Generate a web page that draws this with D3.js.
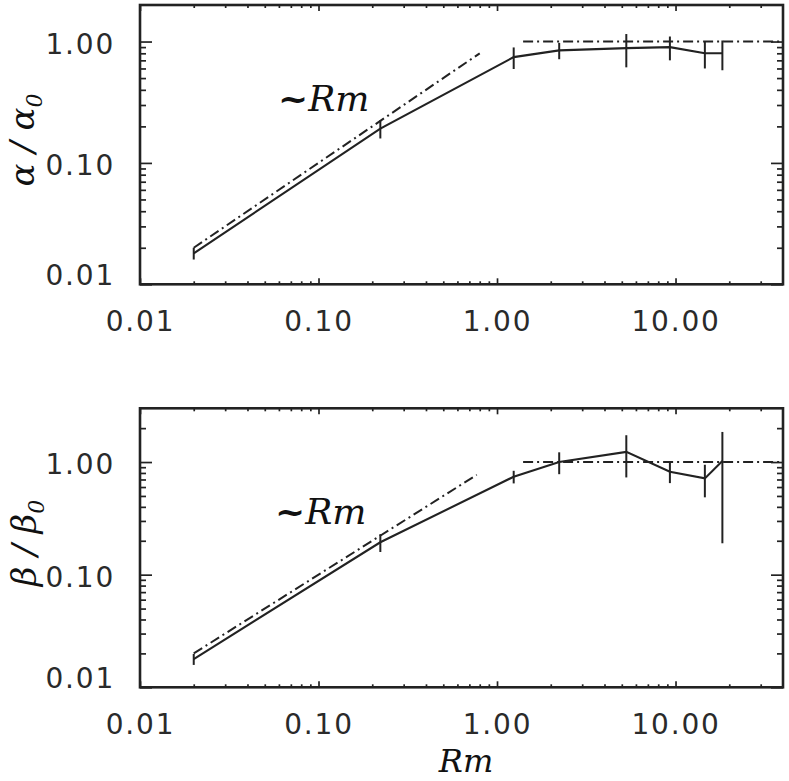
<!DOCTYPE html>
<html>
<head>
<meta charset="utf-8">
<script src="https://cdn.jsdelivr.net/npm/d3@7"></script>
<style>
  html, body { margin: 0; padding: 0; background: #fff; }
  svg { display: block; }
</style>
</head>
<body>
<svg id="chart" width="789" height="781"></svg>
<script>
// ---- data ----
const rm        = [0.02, 0.222, 1.24, 2.23, 5.3, 9.3, 14.6, 18.3];
const alphaVal  = [0.018, 0.192, 0.744, 0.845, 0.883, 0.90, 0.80, 0.80];
const alphaErr  = [0.002, 0.033, 0.15, 0.13, 0.27, 0.20, 0.20, 0.22];
const betaVal   = [0.0178, 0.194, 0.741, 1.00, 1.23, 0.82, 0.716, 1.02];
const betaErr   = [0.002, 0.035, 0.095, 0.22, 0.50, 0.17, 0.23, 0.83];
const fitAlphaRm = [0.02, 0.80];
const fitBetaRm  = [0.02, 0.77];
const plateauRm  = [1.4, 40];
const plateauVal = 1.0;
const xMajorTicks = [0.01, 0.1, 1, 10];
const xTickLabels = ["0.01", "0.10", "1.00", "10.00"];
const yMajorTicks = [0.01, 0.1, 1];
const yTickLabels = ["0.01", "0.10", "1.00"];

const ink = "#222";
const svg = d3.select("#chart");

const x = d3.scaleLog().domain([0.01, 40]).range([140, 783]);

function minorTicks(lo, hi) {
  const out = [];
  for (let e = -3; e <= 2; e++) {
    for (let m = 2; m <= 9; m++) {
      const v = m * Math.pow(10, e);
      if (v > lo * 1.0001 && v < hi * 0.9999) out.push(v);
    }
  }
  return out;
}

function panel(opts) {
  const y = d3.scaleLog().domain(opts.yDomain).range(opts.yRange);
  const [x0, x1] = x.range();
  const yb = opts.yRange[0], yt = opts.yRange[1];
  const g = svg.append("g");
  const xMin = minorTicks(0.01, 40);
  const yMin = minorTicks(opts.yDomain[0], opts.yDomain[1]);

  const styleAxis = sel => {
    sel.select(".domain").remove();
    sel.selectAll("line").attr("stroke", ink).attr("stroke-width", 1.7);
  };
  const styleLabels = s => s.selectAll("text").attr("font-family", "DejaVu Sans")
    .attr("font-size", 28).attr("fill", "#2a2a2a").attr("letter-spacing", 1.8);

  // bottom axis
  g.append("g").attr("transform", `translate(0,${yb})`)
    .call(d3.axisBottom(x).tickValues(xMajorTicks).tickSizeInner(-6).tickSizeOuter(0)
      .tickFormat((d, i) => xTickLabels[i]).tickPadding(27))
    .call(styleAxis).call(styleLabels);
  g.append("g").attr("transform", `translate(0,${yb})`)
    .call(d3.axisBottom(x).tickValues(xMin).tickSizeInner(-3).tickSizeOuter(0).tickFormat(""))
    .call(styleAxis);
  // top axis
  g.append("g").attr("transform", `translate(0,${yt})`)
    .call(d3.axisTop(x).tickValues(xMajorTicks).tickSizeInner(-6).tickSizeOuter(0).tickFormat(""))
    .call(styleAxis);
  g.append("g").attr("transform", `translate(0,${yt})`)
    .call(d3.axisTop(x).tickValues(xMin).tickSizeInner(-3).tickSizeOuter(0).tickFormat(""))
    .call(styleAxis);
  // left axis
  g.append("g").attr("transform", `translate(${x0},0)`)
    .call(d3.axisLeft(y).tickValues(yMajorTicks).tickSizeInner(-12).tickSizeOuter(0)
      .tickFormat((d, i) => yTickLabels[i]).tickPadding(25))
    .call(styleAxis).call(styleLabels)
    .call(s => s.selectAll("text").attr("dy", (d, i) => i === 0 ? "0.0em" : "0.42em"));
  g.append("g").attr("transform", `translate(${x0},0)`)
    .call(d3.axisLeft(y).tickValues(yMin).tickSizeInner(-6).tickSizeOuter(0).tickFormat(""))
    .call(styleAxis);
  // right axis
  g.append("g").attr("transform", `translate(${x1},0)`)
    .call(d3.axisRight(y).tickValues(yMajorTicks).tickSizeInner(-12).tickSizeOuter(0).tickFormat(""))
    .call(styleAxis);
  g.append("g").attr("transform", `translate(${x1},0)`)
    .call(d3.axisRight(y).tickValues(yMin).tickSizeInner(-6).tickSizeOuter(0).tickFormat(""))
    .call(styleAxis);

  // frame
  g.append("rect").attr("x", x0).attr("y", yt).attr("width", x1 - x0).attr("height", yb - yt)
    .attr("fill", "none").attr("stroke", ink).attr("stroke-width", 2.6);

  // reference lines (dash-dot)
  const line = d3.line().x(d => x(d[0])).y(d => y(d[1]));
  g.append("path").datum(opts.fitRm.map(r => [r, r]))
    .attr("d", line).attr("fill", "none").attr("stroke", ink)
    .attr("stroke-width", 2).attr("stroke-dasharray", "10,4,2,4");
  g.append("path").datum(plateauRm.map(r => [r, plateauVal]))
    .attr("d", line).attr("fill", "none").attr("stroke", ink)
    .attr("stroke-width", 2).attr("stroke-dasharray", "10,4,2,4");

  // data line
  g.append("path").datum(rm.map((r, i) => [r, opts.vals[i]]))
    .attr("d", line).attr("fill", "none").attr("stroke", ink).attr("stroke-width", 2.1);
  // error bars
  g.selectAll(".err").data(rm).enter().append("line")
    .attr("x1", d => x(d)).attr("x2", d => x(d))
    .attr("y1", (d, i) => y(opts.vals[i] + opts.errs[i]))
    .attr("y2", (d, i) => y(Math.max(opts.vals[i] - opts.errs[i], 1e-4)))
    .attr("stroke", ink).attr("stroke-width", 2);

  // ~Rm annotation
  const t = g.append("text").attr("x", opts.annX).attr("y", opts.annY)
    .attr("font-family", "DejaVu Serif").attr("font-size", 36).attr("fill", "#111");
  t.append("tspan").attr("font-weight", "bold").text("~");
  t.append("tspan").attr("font-style", "italic").text("Rm");

  // y title
  const yt2 = g.append("text")
    .attr("transform", `translate(${opts.titleX},${opts.titleY}) rotate(-90)`)
    .attr("text-anchor", "middle").attr("font-family", "DejaVu Serif")
    .attr("font-style", "italic").attr("font-size", 34).attr("fill", "#111");
  yt2.append("tspan").text(opts.sym + " / " + opts.sym);
  yt2.append("tspan").attr("font-size", 22).attr("dy", 8).text("0");
}

panel({ yDomain: [0.01, 2], yRange: [284.3, 5], vals: alphaVal, errs: alphaErr,
        fitRm: fitAlphaRm, annX: 278, annY: 111, sym: "α", titleX: 34, titleY: 140 });
panel({ yDomain: [0.01, 3], yRange: [687.3, 408.3], vals: betaVal, errs: betaErr,
        fitRm: fitBetaRm, annX: 275, annY: 524, sym: "β", titleX: 36, titleY: 543 });

svg.append("text").attr("x", 466).attr("y", 772).attr("text-anchor", "middle")
  .attr("font-family", "DejaVu Serif").attr("font-style", "italic").attr("font-size", 32)
  .attr("fill", "#111").text("Rm");
</script>
</body>
</html>
